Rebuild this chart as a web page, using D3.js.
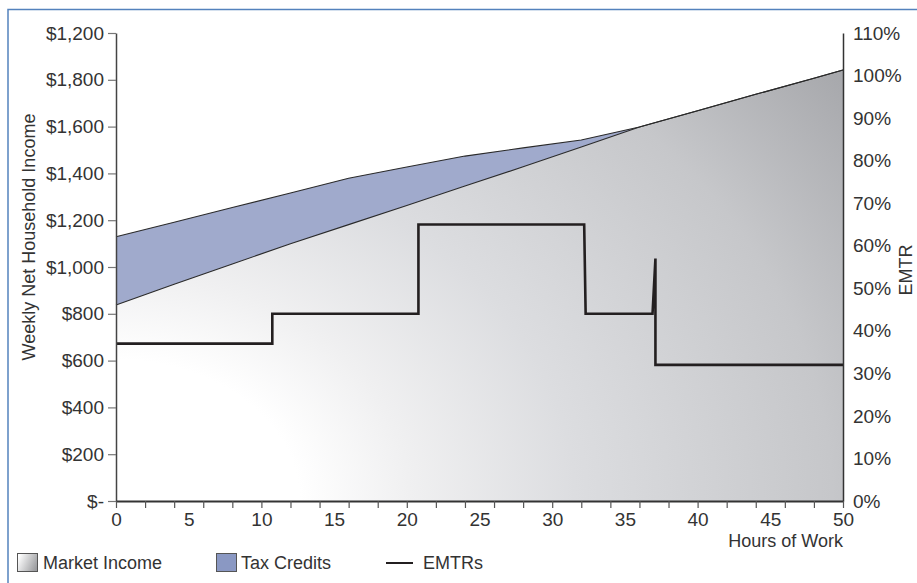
<!DOCTYPE html>
<html>
<head>
<meta charset="utf-8">
<script src="https://cdn.jsdelivr.net/npm/d3@7"></script>
<style>
  html, body { margin: 0; padding: 0; background: #ffffff; }
  svg { display: block; }
  text { font-family: "Liberation Sans", Arial, sans-serif; fill: #333333; }
</style>
</head>
<body>
<svg id="chart" width="917" height="583"></svg>
<script>
// Weekly income by hours worked
const incomeHours   = [0, 4, 8, 12, 16, 20, 24, 28, 32, 36, 40, 44, 48, 50];
const marketIncome  = [838, 926, 1013, 1099, 1181, 1263, 1346, 1428, 1513, 1598, 1668, 1738, 1807, 1842];
const totalIncome   = [1129, 1191, 1254, 1316, 1379, 1427, 1474, 1509, 1543, 1598, 1668, 1738, 1807, 1842];

// Effective marginal tax rates (step line, %)
const emtrHours = [0, 10.75, 10.75, 20.8, 20.8, 32.2, 32.3, 36.9, 37.1, 37.1, 50];
const emtrRates = [37, 37, 44, 44, 65, 65, 44, 44, 57, 32, 32];

// Axis ticks and labels
const moneyTicks  = [0, 200, 400, 600, 800, 1000, 1200, 1400, 1600, 1800, 2000];
const moneyLabels = ["$-", "$200", "$400", "$600", "$800", "$1,000", "$1,200", "$1,400", "$1,600", "$1,800", "$1,200"];
const rateTicks   = [0, 10, 20, 30, 40, 50, 60, 70, 80, 90, 100, 110];
const hourTicks   = [0, 2, 4, 6, 8, 10, 12, 14, 16, 18, 20, 22, 24, 26, 28, 30, 32, 34, 36, 38, 40, 42, 44, 46, 48, 50];
const hourLabels  = [0, 5, 10, 15, 20, 25, 30, 35, 40, 45, 50];

const legendItems = ["Market Income", "Tax Credits", "EMTRs"];

const FONT = '"Liberation Sans", Arial, sans-serif';
const svg = d3.select("#chart");

const x  = d3.scaleLinear().domain([0, 50]).range([116, 843]);
const yL = d3.scaleLinear().domain([0, 2000]).range([501, 33]);
const yR = d3.scaleLinear().domain([0, 110]).range([501, 33]);

const defs = svg.append("defs");

// radial shading of the market income area, lightest at the origin
const rg = defs.append("radialGradient")
  .attr("id", "marketFill")
  .attr("gradientUnits", "userSpaceOnUse")
  .attr("cx", 116).attr("cy", 501).attr("r", 918)
  .attr("gradientTransform", "translate(116,501) scale(1,0.77) translate(-116,-501)");
[[0, "#ffffff"], [0.2, "#ffffff"], [0.32, "#f0f0f1"], [0.5, "#dcdde0"], [0.78, "#c6c7ca"], [1, "#a6a7ab"]]
  .forEach(([o, c]) => rg.append("stop").attr("offset", o).attr("stop-color", c));

const lg = defs.append("linearGradient")
  .attr("id", "marketSwatch")
  .attr("x1", 0).attr("y1", 0.3).attr("x2", 1).attr("y2", 0.7);
[[0, "#ffffff"], [1, "#9a9b9e"]]
  .forEach(([o, c]) => lg.append("stop").attr("offset", o).attr("stop-color", c));

// outer frame
svg.append("path")
  .attr("d", "M8,590 L8,9.5 L925,9.5")
  .attr("fill", "none")
  .attr("stroke", "#5482bd")
  .attr("stroke-width", 1.5);

const incomeRows = incomeHours.map((h, i) => ({ h, m: marketIncome[i], t: totalIncome[i] }));

// market income area
svg.append("path")
  .datum(incomeRows)
  .attr("d", d3.area().x(d => x(d.h)).y0(yL(0)).y1(d => yL(d.m)))
  .attr("fill", "url(#marketFill)");

// tax credits band
svg.append("path")
  .datum(incomeRows)
  .attr("d", d3.area().x(d => x(d.h)).y0(d => yL(d.m)).y1(d => yL(d.t)))
  .attr("fill", "#a0aacc");

// outlines of both series
svg.append("path")
  .datum(incomeRows)
  .attr("d", d3.line().x(d => x(d.h)).y(d => yL(d.t)))
  .attr("fill", "none").attr("stroke", "#2a2a2a").attr("stroke-width", 1.1);
svg.append("path")
  .datum(incomeRows)
  .attr("d", d3.line().x(d => x(d.h)).y(d => yL(d.m)))
  .attr("fill", "none").attr("stroke", "#2a2a2a").attr("stroke-width", 1.1);

// EMTR step line
const emtrRows = emtrHours.map((h, i) => ({ h, r: emtrRates[i] }));
svg.append("path")
  .datum(emtrRows)
  .attr("d", d3.line().x(d => x(d.h)).y(d => yR(d.r)))
  .attr("fill", "none")
  .attr("stroke", "#231f20")
  .attr("stroke-width", 2.6)
  .attr("stroke-linejoin", "miter");

// left axis
const gL = svg.append("g").attr("transform", "translate(116,0)")
  .call(d3.axisLeft(yL).tickValues(moneyTicks)
    .tickFormat((d, i) => moneyLabels[i]).tickSize(8).tickSizeOuter(0).tickPadding(4));

// right axis
const gR = svg.append("g").attr("transform", "translate(843,0)")
  .call(d3.axisRight(yR).tickValues(rateTicks)
    .tickFormat(d => d + "%").tickSize(0).tickSizeOuter(0).tickPadding(10));

// bottom axis: minor ticks and labels
const gB = svg.append("g").attr("transform", "translate(0,501)")
  .call(d3.axisBottom(x).tickValues(hourTicks).tickFormat("").tickSize(7).tickSizeOuter(0));
const gBL = svg.append("g").attr("transform", "translate(0,501)")
  .call(d3.axisBottom(x).tickValues(hourLabels).tickFormat(d => d).tickSize(0).tickPadding(12));
gBL.select(".domain").remove();

[gL, gR, gB, gBL].forEach(g => {
  g.attr("font-size", 19).attr("font-family", FONT);
  g.selectAll("text")
    .attr("font-size", 19)
    .style("font-size", "19px")
    .style("font-family", FONT)
    .attr("fill", "#333333");
});
gL.select(".domain").attr("stroke", "#444444").attr("stroke-width", 1.5);
gL.selectAll(".tick line").attr("stroke", "#777777").attr("stroke-width", 1.2);
gR.select(".domain").attr("stroke", "#333333").attr("stroke-width", 1.5);
gB.select(".domain").attr("stroke", "#333333").attr("stroke-width", 2);
gB.selectAll(".tick line").attr("stroke", "#555555").attr("stroke-width", 1.2);

// axis titles
svg.append("text")
  .attr("transform", "translate(35,237) rotate(-90)")
  .attr("text-anchor", "middle")
  .style("font-size", "18px")
  .text("Weekly Net Household Income");

svg.append("text")
  .attr("transform", "translate(912,270) rotate(-90)")
  .attr("text-anchor", "middle")
  .style("font-size", "18px")
  .text("EMTR");

svg.append("text")
  .attr("x", 843).attr("y", 547)
  .attr("text-anchor", "end")
  .style("font-size", "18px")
  .attr("fill", "#2a2a2a")
  .text("Hours of Work");

// legend
const legend = svg.append("g");
legend.append("rect").attr("x", 17.5).attr("y", 553.5).attr("width", 20).attr("height", 18)
  .attr("fill", "url(#marketSwatch)").attr("stroke", "#555555").attr("stroke-width", 1);
legend.append("text").attr("x", 43).attr("y", 569).style("font-size", "18px").text(legendItems[0]);

legend.append("rect").attr("x", 216.5).attr("y", 553.5).attr("width", 20).attr("height", 18)
  .attr("fill", "#8a98c3").attr("stroke", "#555555").attr("stroke-width", 1);
legend.append("text").attr("x", 241).attr("y", 569).style("font-size", "18px").text(legendItems[1]);

legend.append("line").attr("x1", 386).attr("x2", 413).attr("y1", 563).attr("y2", 563)
  .attr("stroke", "#231f20").attr("stroke-width", 2);
legend.append("text").attr("x", 423).attr("y", 569).style("font-size", "18px").text(legendItems[2]);
</script>
</body>
</html>
